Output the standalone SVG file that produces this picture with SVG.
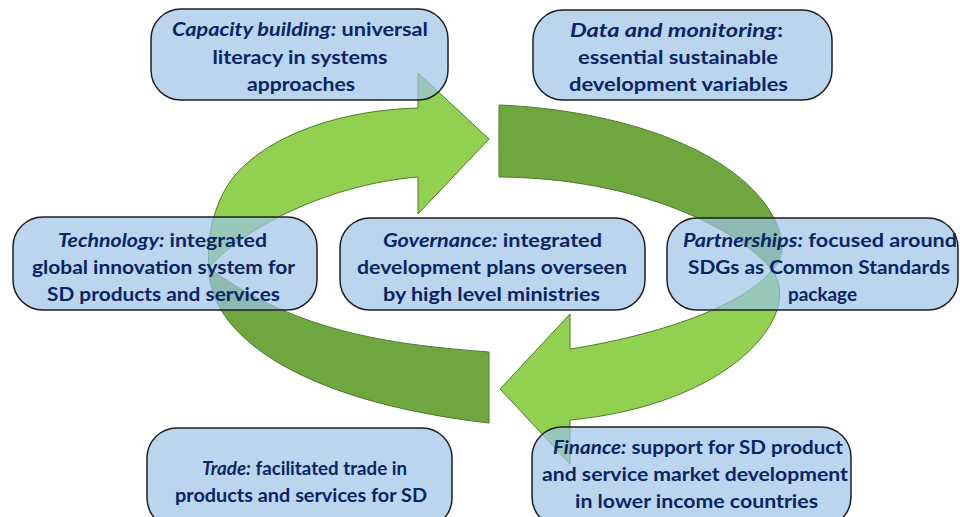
<svg xmlns="http://www.w3.org/2000/svg" width="960" height="517" viewBox="0 0 960 517">
<style>
.box{fill:#9DC3E6;fill-opacity:0.7;stroke:#1E1E1E;stroke-width:1.5}
.t{font-family:Lato,"Liberation Sans",sans-serif;font-size:18px;font-weight:bold;fill:#0B2463;text-anchor:middle}
.i{font-style:italic}
.lg{fill:#92D050;stroke:#4E7A2C;stroke-width:1}
.dg{fill:#70A640;stroke:#4E7A2C;stroke-width:1}
</style>
<rect width="960" height="517" fill="#FFFFFF"/>
<g id="connectors">
  <path class="dg" d="M209,268 C208,330 290,400 489,423 L489,352 C400,345 300,335 209,268 Z"/>
  <path class="lg" d="M418,108 C340,110 270,135 235,175 C215,200 206,235 209,268 C235,235 320,185 418,177 L418,214 L489,139 L418,73 Z"/>
  <path class="dg" d="M499,105 C620,110 740,150 775,220 C785,240 785,258 772,270 C740,230 640,178 499,177 Z"/>
  <path class="lg" d="M772,270 C805,315 730,405 570,420 L570,464 L500,389 L570,314 L570,349 C660,335 745,305 772,270 Z"/>
</g>
<g id="capacity">
  <rect class="box" x="151" y="9" width="297" height="91" rx="30"/>
  <text class="t" x="300" y="36" textLength="256" lengthAdjust="spacingAndGlyphs"><tspan class="i">Capacity building:</tspan> universal</text>
  <text class="t" x="300" y="63.5" textLength="175" lengthAdjust="spacingAndGlyphs">literacy in systems</text>
  <text class="t" x="301" y="91" textLength="108" lengthAdjust="spacingAndGlyphs">approaches</text>
</g>
<g id="data">
  <rect class="box" x="533" y="10" width="299" height="90" rx="30"/>
  <text class="t" x="676.5" y="36.5" textLength="213" lengthAdjust="spacingAndGlyphs"><tspan class="i">Data and monitoring</tspan>:</text>
  <text class="t" x="678" y="64" textLength="200" lengthAdjust="spacingAndGlyphs">essential sustainable</text>
  <text class="t" x="678.5" y="91" textLength="219" lengthAdjust="spacingAndGlyphs">development variables</text>
</g>
<g id="technology">
  <rect class="box" x="13" y="217" width="304" height="93" rx="30"/>
  <text class="t" x="162.5" y="246.5" textLength="209" lengthAdjust="spacingAndGlyphs"><tspan class="i">Technology:</tspan> integrated</text>
  <text class="t" x="163.5" y="274" textLength="263" lengthAdjust="spacingAndGlyphs">global innovation system for</text>
  <text class="t" x="163.5" y="301" textLength="233" lengthAdjust="spacingAndGlyphs">SD products and services</text>
</g>
<g id="governance">
  <rect class="box" x="340" y="218" width="305" height="92" rx="30"/>
  <text class="t" x="492.5" y="246.5" textLength="219" lengthAdjust="spacingAndGlyphs"><tspan class="i">Governance:</tspan> integrated</text>
  <text class="t" x="492" y="274" textLength="270" lengthAdjust="spacingAndGlyphs">development plans overseen</text>
  <text class="t" x="491.5" y="301" textLength="217" lengthAdjust="spacingAndGlyphs">by high level ministries</text>
</g>
<g id="partnerships">
  <rect class="box" x="667" y="218" width="291" height="92" rx="30"/>
  <text class="t" x="820" y="246.5" textLength="274" lengthAdjust="spacingAndGlyphs"><tspan class="i">Partnerships:</tspan> focused around</text>
  <text class="t" x="819" y="274" textLength="262" lengthAdjust="spacingAndGlyphs">SDGs as Common Standards</text>
  <text class="t" x="822.5" y="301" textLength="69" lengthAdjust="spacingAndGlyphs">package</text>
</g>
<g id="trade">
  <rect class="box" x="147" y="428" width="305" height="100" rx="30"/>
  <text class="t" x="304.5" y="475" textLength="205" lengthAdjust="spacingAndGlyphs"><tspan class="i">Trade:</tspan> facilitated trade in</text>
  <text class="t" x="301" y="502" textLength="252" lengthAdjust="spacingAndGlyphs">products and services for SD</text>
</g>
<g id="finance">
  <rect class="box" x="532" y="427" width="319" height="100" rx="30"/>
  <text class="t" x="698" y="453.5" textLength="290" lengthAdjust="spacingAndGlyphs"><tspan class="i">Finance:</tspan> support for SD product</text>
  <text class="t" x="695" y="480.5" textLength="306" lengthAdjust="spacingAndGlyphs">and service market development</text>
  <text class="t" x="696.5" y="507.5" textLength="243" lengthAdjust="spacingAndGlyphs">in lower income countries</text>
</g>
</svg>
